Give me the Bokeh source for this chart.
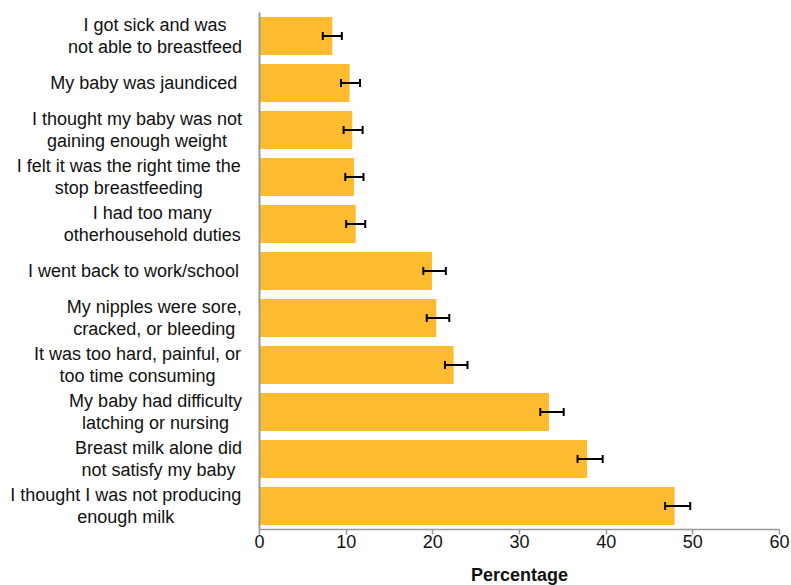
from bokeh.plotting import figure
from bokeh.layouts import row, column
from bokeh.models import ColumnDataSource, Range1d, FixedTicker, Whisker, TeeHead
from bokeh.core.properties import value
from bokeh.embed import file_html
from bokeh.resources import INLINE

reasons = [
    "I got sick and was\nnot able to breastfeed",
    "My baby was jaundiced",
    "I thought my baby was not\ngaining enough weight",
    "I felt it was the right time the\nstop breastfeeding",
    "I had too many\notherhousehold duties",
    "I went back to work/school",
    "My nipples were sore,\ncracked, or bleeding",
    "It was too hard, painful, or\ntoo time consuming",
    "My baby had difficulty\nlatching or nursing",
    "Breast milk alone did\nnot satisfy my baby",
    "I thought I was not producing\nenough milk",
]
percent = [8.4, 10.4, 10.7, 10.9, 11.1, 19.9, 20.4, 22.4, 33.4, 37.8, 47.9]
ci_lower = [7.3, 9.4, 9.7, 9.9, 10.0, 18.9, 19.3, 21.4, 32.4, 36.7, 46.8]
ci_upper = [9.5, 11.6, 11.9, 12.0, 12.2, 21.5, 21.9, 24.0, 35.1, 39.6, 49.7]
x_ticks = [0, 10, 20, 30, 40, 50, 60]
x_title = "Percentage"

# layout: horizontal centre (px from page left) of each label block
label_centers_px = [154.5, 143.3, 136.5, 128.3, 151.8, 133.0, 153.7, 137.0, 155.0, 158.0, 125.3]

n = len(reasons)
ypos = [n - 0.5 - i for i in range(n)]

src = ColumnDataSource(dict(y=ypos, pct=percent, lower=ci_lower, upper=ci_upper))
lab_src = ColumnDataSource(dict(y=ypos, x=label_centers_px, text=reasons))

FONT = "Liberation Sans"
TXT = "#111111"
W = 791
LEFT_W = 249
TOP = 12
BOTTOM = 34
H_TOP = 563
H_BOT = 585 - H_TOP

y_range = Range1d(0, n)


def style_xaxis(ax, visible=True):
    ax.ticker = FixedTicker(ticks=x_ticks)
    ax.minor_tick_line_color = None
    ax.major_tick_in = 0
    ax.major_tick_out = 5
    ax.major_label_text_font = FONT
    ax.major_label_text_font_size = "18px"
    ax.major_label_standoff = 0
    if visible:
        ax.axis_line_color = "#999999"
        ax.axis_line_width = 1.5
        ax.major_tick_line_color = "#999999"
        ax.major_tick_line_width = 1.5
        ax.major_label_text_color = TXT
    else:
        ax.axis_line_color = None
        ax.major_tick_line_color = None
        ax.major_label_text_alpha = 0


left = figure(width=LEFT_W, height=H_TOP, output_backend="svg", toolbar_location=None,
              x_range=Range1d(0, LEFT_W), y_range=y_range, y_axis_location=None,
              min_border_left=0, min_border_right=0, min_border_top=TOP,
              min_border_bottom=BOTTOM)
left.outline_line_color = None
left.xgrid.grid_line_color = None
left.ygrid.grid_line_color = None
style_xaxis(left.xaxis[0], visible=False)
left.text(x="x", y="y", text="text", source=lab_src,
          text_align="center", text_baseline="middle",
          text_font=value(FONT), text_font_size="18px", text_color=TXT,
          text_line_height=1.13)

p = figure(width=W - LEFT_W, height=H_TOP, output_backend="svg", toolbar_location=None,
           x_range=Range1d(0, 60), y_range=y_range,
           min_border_left=10, min_border_right=12, min_border_top=TOP,
           min_border_bottom=BOTTOM)
p.outline_line_color = None
p.xgrid.grid_line_color = None
p.ygrid.grid_line_color = None

p.hbar(y="y", right="pct", left=0, height=0.81, source=src,
       fill_color="#FDBB30", line_color=None)

w = Whisker(base="y", lower="lower", upper="upper", dimension="width", source=src,
            line_color="black", line_width=2, level="overlay",
            upper_head=TeeHead(size=8, line_width=2, line_color="black"),
            lower_head=TeeHead(size=8, line_width=2, line_color="black"))
p.add_layout(w)

style_xaxis(p.xaxis[0], visible=True)

ya = p.yaxis[0]
ya.ticker = FixedTicker(ticks=[])
ya.axis_line_color = "#999999"
ya.axis_line_width = 2
ya.major_tick_line_color = None
ya.minor_tick_line_color = None
ya.major_label_text_font_size = "0px"

# strip below holding the x-axis title
bot = figure(width=W, height=H_BOT, output_backend="svg", toolbar_location=None,
             x_range=Range1d(0, W), y_range=Range1d(0, H_BOT),
             x_axis_location=None, y_axis_location=None,
             min_border_left=0, min_border_right=0, min_border_top=0, min_border_bottom=0)
bot.outline_line_color = None
bot.xgrid.grid_line_color = None
bot.ygrid.grid_line_color = None
bot.text(x=[519], y=[H_BOT / 2], text=[x_title], text_align="center",
         text_baseline="middle", text_font=value(FONT), text_font_size="18px",
         text_font_style="bold", text_color=TXT)

layout = column(row(left, p), bot)
open("out.html", "w").write(file_html(layout, INLINE))
